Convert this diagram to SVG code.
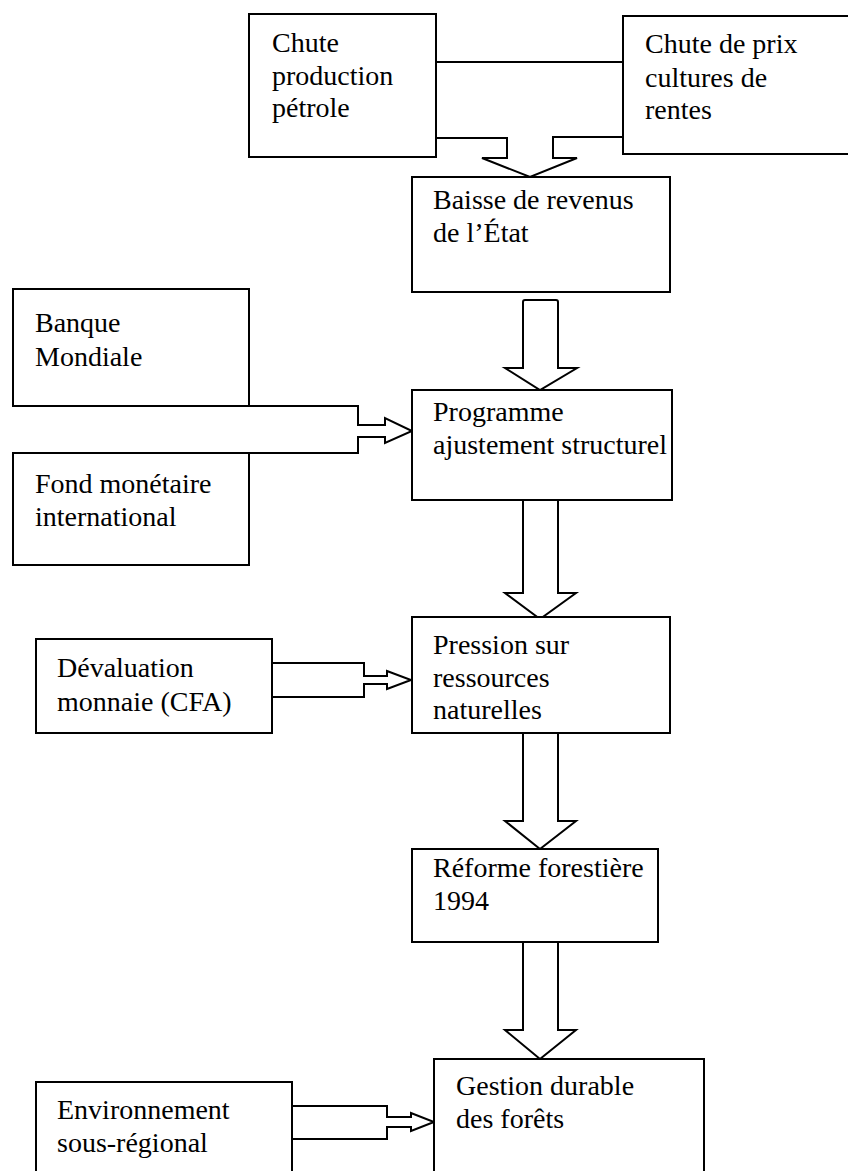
<svg xmlns="http://www.w3.org/2000/svg" width="848" height="1171" viewBox="0 0 848 1171">
  <style>
    .box { fill: #ffffff; stroke: #000000; stroke-width: 2; }
    .lbl { font-family: "Liberation Serif", "Times New Roman", serif; font-size: 28px; fill: #000000; }
    .wire { fill: none; stroke: #000000; stroke-width: 2; stroke-linejoin: miter; }
    .arrow { fill: #ffffff; stroke: #000000; stroke-width: 2; stroke-linejoin: miter; }
  </style>
  <rect width="848" height="1171" fill="#ffffff"/>

  <!-- connectors: hollow block arrows -->
  <g id="connectors">
    <path class="wire" d="M436,62 H623"/>
    <path class="wire" d="M436,138 H507 V158 H482 L530,177 L577,158 H553 V137 H623"/>
    <path class="arrow" d="M505,368 H523 V302 Q523,300 525,300 H556 Q558,300 558,302 V368 H577 L540,390 Z"/>
    <path class="wire" d="M249,406 H358 V425 H385 V418 L412,431 L385,443 V437 H358 V453 H249"/>
    <path class="arrow" d="M523,500 V593 H505 L540,619 L576,593 H558 V500"/>
    <path class="wire" d="M272,663 H364 V676 H387 V671 L411,680 L387,689 V684 H364 V697 H272"/>
    <path class="arrow" d="M523,733 V821 H505 L540,849 L576,821 H558 V733"/>
    <path class="arrow" d="M523,942 V1030 H505 L540,1059 L576,1030 H558 V942"/>
    <path class="wire" d="M292,1106 H387 V1117 H411 V1113 L434,1122 L411,1131 V1127 H387 V1139 H292"/>
  </g>

  <g id="chute-petrole">
    <rect class="box" x="249" y="14" width="187" height="143"/>
    <text class="lbl" x="272" y="52">Chute</text>
    <text class="lbl" x="272" y="85">production</text>
    <text class="lbl" x="272" y="117">pétrole</text>
  </g>

  <g id="chute-prix">
    <rect class="box" x="623" y="16" width="240" height="138"/>
    <text class="lbl" x="645" y="53">Chute de prix</text>
    <text class="lbl" x="645" y="87">cultures de</text>
    <text class="lbl" x="645" y="119">rentes</text>
  </g>

  <g id="baisse-revenus">
    <rect class="box" x="412" y="177" width="258" height="115"/>
    <text class="lbl" x="433" y="209">Baisse de revenus</text>
    <text class="lbl" x="433" y="242">de l’État</text>
  </g>

  <g id="banque-mondiale">
    <rect class="box" x="13" y="289" width="236" height="117"/>
    <text class="lbl" x="35" y="332">Banque</text>
    <text class="lbl" x="35" y="366">Mondiale</text>
  </g>

  <g id="programme-ajustement">
    <rect class="box" x="412" y="390" width="260" height="110"/>
    <text class="lbl" x="433" y="421">Programme</text>
    <text class="lbl" x="433" y="454">ajustement structurel</text>
  </g>

  <g id="fmi">
    <rect class="box" x="13" y="453" width="236" height="112"/>
    <text class="lbl" x="35" y="493">Fond monétaire</text>
    <text class="lbl" x="35" y="526">international</text>
  </g>

  <g id="pression-ressources">
    <rect class="box" x="412" y="617" width="258" height="116"/>
    <text class="lbl" x="433" y="654">Pression sur</text>
    <text class="lbl" x="433" y="687">ressources</text>
    <text class="lbl" x="433" y="719">naturelles</text>
  </g>

  <g id="devaluation">
    <rect class="box" x="36" y="639" width="236" height="94"/>
    <text class="lbl" x="57" y="677">Dévaluation</text>
    <text class="lbl" x="57" y="711">monnaie (CFA)</text>
  </g>

  <g id="reforme-forestiere">
    <rect class="box" x="412" y="849" width="246" height="93"/>
    <text class="lbl" x="433" y="877">Réforme forestière</text>
    <text class="lbl" x="433" y="910">1994</text>
  </g>

  <g id="gestion-durable">
    <rect class="box" x="434" y="1059" width="270" height="130"/>
    <text class="lbl" x="456" y="1095">Gestion durable</text>
    <text class="lbl" x="456" y="1128">des forêts</text>
  </g>

  <g id="environnement">
    <rect class="box" x="36" y="1082" width="256" height="100"/>
    <text class="lbl" x="57" y="1119">Environnement</text>
    <text class="lbl" x="57" y="1152">sous-régional</text>
  </g>
</svg>
